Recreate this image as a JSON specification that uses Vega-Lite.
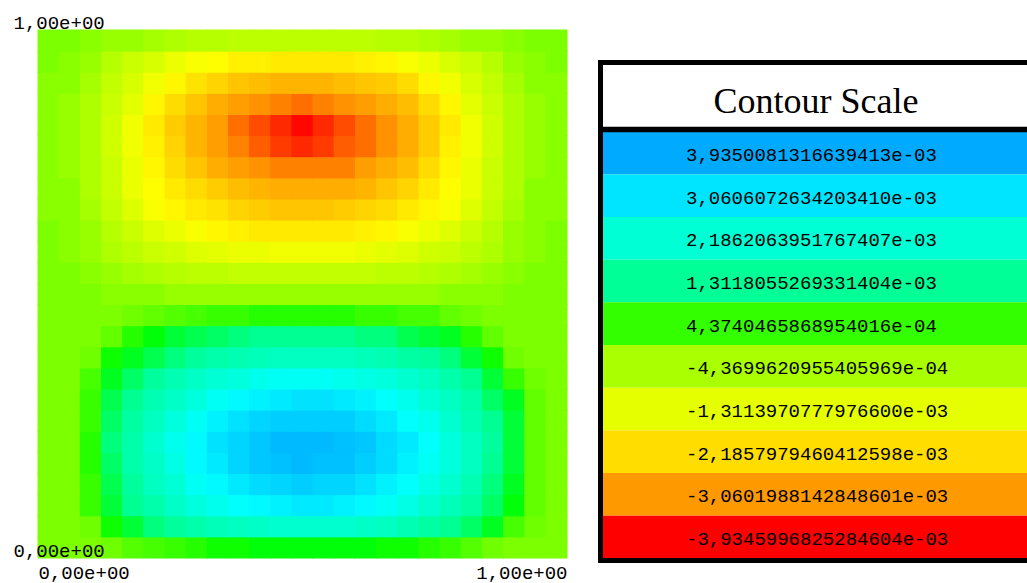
{
"$schema": "https://vega.github.io/schema/vega-lite/v6.json",
"width": 1027,
"height": 583,
"autosize": "none",
"padding": 0,
"background": "#ffffff",
"config": {"view": {"stroke": null}},
"datasets": {
"field": [
{"x":0.02,"y":0.02,"v":-1},{"x":0.06,"y":0.02,"v":-1},{"x":0.1,"y":0.02,"v":-1},{"x":0.14,"y":0.02,"v":0},{"x":0.18,"y":0.02,"v":2},{"x":0.22,"y":0.02,"v":3},{"x":0.26,"y":0.02,"v":4},{"x":0.3,"y":0.02,"v":5},{"x":0.34,"y":0.02,"v":6},{"x":0.38,"y":0.02,"v":6},{"x":0.42,"y":0.02,"v":7},{"x":0.46,"y":0.02,"v":7},{"x":0.5,"y":0.02,"v":7},{"x":0.54,"y":0.02,"v":7},{"x":0.58,"y":0.02,"v":7},{"x":0.62,"y":0.02,"v":7},{"x":0.66,"y":0.02,"v":6},{"x":0.7,"y":0.02,"v":6},{"x":0.74,"y":0.02,"v":5},{"x":0.78,"y":0.02,"v":4},{"x":0.82,"y":0.02,"v":2},{"x":0.86,"y":0.02,"v":0},{"x":0.9,"y":0.02,"v":-1},{"x":0.94,"y":0.02,"v":-1},{"x":0.98,"y":0.02,"v":-1},
{"x":0.02,"y":0.06,"v":-1},{"x":0.06,"y":0.06,"v":-1},{"x":0.1,"y":0.06,"v":0},{"x":0.14,"y":0.06,"v":6},{"x":0.18,"y":0.06,"v":9},{"x":0.22,"y":0.06,"v":12},{"x":0.26,"y":0.06,"v":14},{"x":0.3,"y":0.06,"v":16},{"x":0.34,"y":0.06,"v":18},{"x":0.38,"y":0.06,"v":19},{"x":0.42,"y":0.06,"v":20},{"x":0.46,"y":0.06,"v":21},{"x":0.5,"y":0.06,"v":21},{"x":0.54,"y":0.06,"v":21},{"x":0.58,"y":0.06,"v":21},{"x":0.62,"y":0.06,"v":20},{"x":0.66,"y":0.06,"v":19},{"x":0.7,"y":0.06,"v":17},{"x":0.74,"y":0.06,"v":15},{"x":0.78,"y":0.06,"v":13},{"x":0.82,"y":0.06,"v":11},{"x":0.86,"y":0.06,"v":8},{"x":0.9,"y":0.06,"v":3},{"x":0.94,"y":0.06,"v":0},{"x":0.98,"y":0.06,"v":-1},
{"x":0.02,"y":0.1,"v":-1},{"x":0.06,"y":0.1,"v":-1},{"x":0.1,"y":0.1,"v":4},{"x":0.14,"y":0.1,"v":9},{"x":0.18,"y":0.1,"v":13},{"x":0.22,"y":0.1,"v":16},{"x":0.26,"y":0.1,"v":20},{"x":0.3,"y":0.1,"v":23},{"x":0.34,"y":0.1,"v":25},{"x":0.38,"y":0.1,"v":27},{"x":0.42,"y":0.1,"v":28},{"x":0.46,"y":0.1,"v":29},{"x":0.5,"y":0.1,"v":30},{"x":0.54,"y":0.1,"v":30},{"x":0.58,"y":0.1,"v":29},{"x":0.62,"y":0.1,"v":28},{"x":0.66,"y":0.1,"v":26},{"x":0.7,"y":0.1,"v":24},{"x":0.74,"y":0.1,"v":21},{"x":0.78,"y":0.1,"v":18},{"x":0.82,"y":0.1,"v":15},{"x":0.86,"y":0.1,"v":11},{"x":0.9,"y":0.1,"v":7},{"x":0.94,"y":0.1,"v":1},{"x":0.98,"y":0.1,"v":-1},
{"x":0.02,"y":0.14,"v":-1},{"x":0.06,"y":0.14,"v":-1},{"x":0.1,"y":0.14,"v":4},{"x":0.14,"y":0.14,"v":10},{"x":0.18,"y":0.14,"v":14},{"x":0.22,"y":0.14,"v":19},{"x":0.26,"y":0.14,"v":22},{"x":0.3,"y":0.14,"v":26},{"x":0.34,"y":0.14,"v":28},{"x":0.38,"y":0.14,"v":30},{"x":0.42,"y":0.14,"v":32},{"x":0.46,"y":0.14,"v":33},{"x":0.5,"y":0.14,"v":34},{"x":0.54,"y":0.14,"v":33},{"x":0.58,"y":0.14,"v":33},{"x":0.62,"y":0.14,"v":31},{"x":0.66,"y":0.14,"v":29},{"x":0.7,"y":0.14,"v":27},{"x":0.74,"y":0.14,"v":24},{"x":0.78,"y":0.14,"v":21},{"x":0.82,"y":0.14,"v":17},{"x":0.86,"y":0.14,"v":12},{"x":0.9,"y":0.14,"v":8},{"x":0.94,"y":0.14,"v":1},{"x":0.98,"y":0.14,"v":-1},
{"x":0.02,"y":0.18,"v":-1},{"x":0.06,"y":0.18,"v":-1},{"x":0.1,"y":0.18,"v":5},{"x":0.14,"y":0.18,"v":11},{"x":0.18,"y":0.18,"v":16},{"x":0.22,"y":0.18,"v":20},{"x":0.26,"y":0.18,"v":24},{"x":0.3,"y":0.18,"v":28},{"x":0.34,"y":0.18,"v":30},{"x":0.38,"y":0.18,"v":33},{"x":0.42,"y":0.18,"v":35},{"x":0.46,"y":0.18,"v":36},{"x":0.5,"y":0.18,"v":37},{"x":0.54,"y":0.18,"v":36},{"x":0.58,"y":0.18,"v":36},{"x":0.62,"y":0.18,"v":34},{"x":0.66,"y":0.18,"v":32},{"x":0.7,"y":0.18,"v":29},{"x":0.74,"y":0.18,"v":26},{"x":0.78,"y":0.18,"v":23},{"x":0.82,"y":0.18,"v":19},{"x":0.86,"y":0.18,"v":13},{"x":0.9,"y":0.18,"v":9},{"x":0.94,"y":0.18,"v":1},{"x":0.98,"y":0.18,"v":-1},
{"x":0.02,"y":0.22,"v":-1},{"x":0.06,"y":0.22,"v":-1},{"x":0.1,"y":0.22,"v":5},{"x":0.14,"y":0.22,"v":12},{"x":0.18,"y":0.22,"v":16},{"x":0.22,"y":0.22,"v":21},{"x":0.26,"y":0.22,"v":25},{"x":0.3,"y":0.22,"v":28},{"x":0.34,"y":0.22,"v":31},{"x":0.38,"y":0.22,"v":33},{"x":0.42,"y":0.22,"v":35},{"x":0.46,"y":0.22,"v":37},{"x":0.5,"y":0.22,"v":37},{"x":0.54,"y":0.22,"v":37},{"x":0.58,"y":0.22,"v":36},{"x":0.62,"y":0.22,"v":35},{"x":0.66,"y":0.22,"v":32},{"x":0.7,"y":0.22,"v":30},{"x":0.74,"y":0.22,"v":27},{"x":0.78,"y":0.22,"v":23},{"x":0.82,"y":0.22,"v":19},{"x":0.86,"y":0.22,"v":14},{"x":0.9,"y":0.22,"v":9},{"x":0.94,"y":0.22,"v":1},{"x":0.98,"y":0.22,"v":-1},
{"x":0.02,"y":0.26,"v":-1},{"x":0.06,"y":0.26,"v":-1},{"x":0.1,"y":0.26,"v":4},{"x":0.14,"y":0.26,"v":11},{"x":0.18,"y":0.26,"v":15},{"x":0.22,"y":0.26,"v":19},{"x":0.26,"y":0.26,"v":23},{"x":0.3,"y":0.26,"v":26},{"x":0.34,"y":0.26,"v":29},{"x":0.38,"y":0.26,"v":31},{"x":0.42,"y":0.26,"v":33},{"x":0.46,"y":0.26,"v":34},{"x":0.5,"y":0.26,"v":34},{"x":0.54,"y":0.26,"v":34},{"x":0.58,"y":0.26,"v":34},{"x":0.62,"y":0.26,"v":32},{"x":0.66,"y":0.26,"v":30},{"x":0.7,"y":0.26,"v":27},{"x":0.74,"y":0.26,"v":25},{"x":0.78,"y":0.26,"v":21},{"x":0.82,"y":0.26,"v":17},{"x":0.86,"y":0.26,"v":13},{"x":0.9,"y":0.26,"v":9},{"x":0.94,"y":0.26,"v":1},{"x":0.98,"y":0.26,"v":-1},
{"x":0.02,"y":0.3,"v":-1},{"x":0.06,"y":0.3,"v":-1},{"x":0.1,"y":0.3,"v":4},{"x":0.14,"y":0.3,"v":10},{"x":0.18,"y":0.3,"v":13},{"x":0.22,"y":0.3,"v":17},{"x":0.26,"y":0.3,"v":20},{"x":0.3,"y":0.3,"v":23},{"x":0.34,"y":0.3,"v":26},{"x":0.38,"y":0.3,"v":28},{"x":0.42,"y":0.3,"v":29},{"x":0.46,"y":0.3,"v":30},{"x":0.5,"y":0.3,"v":31},{"x":0.54,"y":0.3,"v":31},{"x":0.58,"y":0.3,"v":30},{"x":0.62,"y":0.3,"v":29},{"x":0.66,"y":0.3,"v":27},{"x":0.7,"y":0.3,"v":25},{"x":0.74,"y":0.3,"v":22},{"x":0.78,"y":0.3,"v":19},{"x":0.82,"y":0.3,"v":16},{"x":0.86,"y":0.3,"v":11},{"x":0.9,"y":0.3,"v":8},{"x":0.94,"y":0.3,"v":1},{"x":0.98,"y":0.3,"v":-1},
{"x":0.02,"y":0.34,"v":-1},{"x":0.06,"y":0.34,"v":-1},{"x":0.1,"y":0.34,"v":3},{"x":0.14,"y":0.34,"v":8},{"x":0.18,"y":0.34,"v":11},{"x":0.22,"y":0.34,"v":14},{"x":0.26,"y":0.34,"v":17},{"x":0.3,"y":0.34,"v":20},{"x":0.34,"y":0.34,"v":22},{"x":0.38,"y":0.34,"v":23},{"x":0.42,"y":0.34,"v":25},{"x":0.46,"y":0.34,"v":26},{"x":0.5,"y":0.34,"v":26},{"x":0.54,"y":0.34,"v":26},{"x":0.58,"y":0.34,"v":25},{"x":0.62,"y":0.34,"v":24},{"x":0.66,"y":0.34,"v":23},{"x":0.7,"y":0.34,"v":21},{"x":0.74,"y":0.34,"v":19},{"x":0.78,"y":0.34,"v":16},{"x":0.82,"y":0.34,"v":13},{"x":0.86,"y":0.34,"v":9},{"x":0.9,"y":0.34,"v":4},{"x":0.94,"y":0.34,"v":0},{"x":0.98,"y":0.34,"v":-1},
{"x":0.02,"y":0.38,"v":-1},{"x":0.06,"y":0.38,"v":-1},{"x":0.1,"y":0.38,"v":0},{"x":0.14,"y":0.38,"v":6},{"x":0.18,"y":0.38,"v":8},{"x":0.22,"y":0.38,"v":10},{"x":0.26,"y":0.38,"v":12},{"x":0.3,"y":0.38,"v":14},{"x":0.34,"y":0.38,"v":16},{"x":0.38,"y":0.38,"v":17},{"x":0.42,"y":0.38,"v":18},{"x":0.46,"y":0.38,"v":19},{"x":0.5,"y":0.38,"v":19},{"x":0.54,"y":0.38,"v":19},{"x":0.58,"y":0.38,"v":19},{"x":0.62,"y":0.38,"v":18},{"x":0.66,"y":0.38,"v":17},{"x":0.7,"y":0.38,"v":15},{"x":0.74,"y":0.38,"v":14},{"x":0.78,"y":0.38,"v":12},{"x":0.82,"y":0.38,"v":9},{"x":0.86,"y":0.38,"v":6},{"x":0.9,"y":0.38,"v":0},{"x":0.94,"y":0.38,"v":-1},{"x":0.98,"y":0.38,"v":-1},
{"x":0.02,"y":0.42,"v":-1},{"x":0.06,"y":0.42,"v":-1},{"x":0.1,"y":0.42,"v":-1},{"x":0.14,"y":0.42,"v":1},{"x":0.18,"y":0.42,"v":5},{"x":0.22,"y":0.42,"v":7},{"x":0.26,"y":0.42,"v":9},{"x":0.3,"y":0.42,"v":10},{"x":0.34,"y":0.42,"v":11},{"x":0.38,"y":0.42,"v":12},{"x":0.42,"y":0.42,"v":13},{"x":0.46,"y":0.42,"v":13},{"x":0.5,"y":0.42,"v":13},{"x":0.54,"y":0.42,"v":13},{"x":0.58,"y":0.42,"v":13},{"x":0.62,"y":0.42,"v":12},{"x":0.66,"y":0.42,"v":12},{"x":0.7,"y":0.42,"v":10},{"x":0.74,"y":0.42,"v":9},{"x":0.78,"y":0.42,"v":8},{"x":0.82,"y":0.42,"v":5},{"x":0.86,"y":0.42,"v":1},{"x":0.9,"y":0.42,"v":-1},{"x":0.94,"y":0.42,"v":-1},{"x":0.98,"y":0.42,"v":-1},
{"x":0.02,"y":0.46,"v":-1},{"x":0.06,"y":0.46,"v":-1},{"x":0.1,"y":0.46,"v":-1},{"x":0.14,"y":0.46,"v":-1},{"x":0.18,"y":0.46,"v":0},{"x":0.22,"y":0.46,"v":1},{"x":0.26,"y":0.46,"v":2},{"x":0.3,"y":0.46,"v":3},{"x":0.34,"y":0.46,"v":4},{"x":0.38,"y":0.46,"v":4},{"x":0.42,"y":0.46,"v":5},{"x":0.46,"y":0.46,"v":5},{"x":0.5,"y":0.46,"v":5},{"x":0.54,"y":0.46,"v":5},{"x":0.58,"y":0.46,"v":5},{"x":0.62,"y":0.46,"v":4},{"x":0.66,"y":0.46,"v":4},{"x":0.7,"y":0.46,"v":3},{"x":0.74,"y":0.46,"v":3},{"x":0.78,"y":0.46,"v":1},{"x":0.82,"y":0.46,"v":0},{"x":0.86,"y":0.46,"v":-1},{"x":0.9,"y":0.46,"v":-1},{"x":0.94,"y":0.46,"v":-1},{"x":0.98,"y":0.46,"v":-1},
{"x":0.02,"y":0.5,"v":-1},{"x":0.06,"y":0.5,"v":-1},{"x":0.1,"y":0.5,"v":-1},{"x":0.14,"y":0.5,"v":-2},{"x":0.18,"y":0.5,"v":-2},{"x":0.22,"y":0.5,"v":-2},{"x":0.26,"y":0.5,"v":-3},{"x":0.3,"y":0.5,"v":-3},{"x":0.34,"y":0.5,"v":-3},{"x":0.38,"y":0.5,"v":-3},{"x":0.42,"y":0.5,"v":-3},{"x":0.46,"y":0.5,"v":-3},{"x":0.5,"y":0.5,"v":-3},{"x":0.54,"y":0.5,"v":-3},{"x":0.58,"y":0.5,"v":-3},{"x":0.62,"y":0.5,"v":-3},{"x":0.66,"y":0.5,"v":-3},{"x":0.7,"y":0.5,"v":-3},{"x":0.74,"y":0.5,"v":-3},{"x":0.78,"y":0.5,"v":-2},{"x":0.82,"y":0.5,"v":-2},{"x":0.86,"y":0.5,"v":-2},{"x":0.9,"y":0.5,"v":-1},{"x":0.94,"y":0.5,"v":-1},{"x":0.98,"y":0.5,"v":-1},
{"x":0.02,"y":0.54,"v":-1},{"x":0.06,"y":0.54,"v":-1},{"x":0.1,"y":0.54,"v":-2},{"x":0.14,"y":0.54,"v":-3},{"x":0.18,"y":0.54,"v":-4},{"x":0.22,"y":0.54,"v":-5},{"x":0.26,"y":0.54,"v":-6},{"x":0.3,"y":0.54,"v":-7},{"x":0.34,"y":0.54,"v":-7},{"x":0.38,"y":0.54,"v":-8},{"x":0.42,"y":0.54,"v":-8},{"x":0.46,"y":0.54,"v":-8},{"x":0.5,"y":0.54,"v":-8},{"x":0.54,"y":0.54,"v":-8},{"x":0.58,"y":0.54,"v":-8},{"x":0.62,"y":0.54,"v":-8},{"x":0.66,"y":0.54,"v":-7},{"x":0.7,"y":0.54,"v":-7},{"x":0.74,"y":0.54,"v":-6},{"x":0.78,"y":0.54,"v":-5},{"x":0.82,"y":0.54,"v":-4},{"x":0.86,"y":0.54,"v":-3},{"x":0.9,"y":0.54,"v":-2},{"x":0.94,"y":0.54,"v":-1},{"x":0.98,"y":0.54,"v":-1},
{"x":0.02,"y":0.58,"v":-1},{"x":0.06,"y":0.58,"v":-2},{"x":0.1,"y":0.58,"v":-3},{"x":0.14,"y":0.58,"v":-5},{"x":0.18,"y":0.58,"v":-7},{"x":0.22,"y":0.58,"v":-9},{"x":0.26,"y":0.58,"v":-10},{"x":0.3,"y":0.58,"v":-12},{"x":0.34,"y":0.58,"v":-13},{"x":0.38,"y":0.58,"v":-14},{"x":0.42,"y":0.58,"v":-14},{"x":0.46,"y":0.58,"v":-15},{"x":0.5,"y":0.58,"v":-15},{"x":0.54,"y":0.58,"v":-15},{"x":0.58,"y":0.58,"v":-15},{"x":0.62,"y":0.58,"v":-14},{"x":0.66,"y":0.58,"v":-13},{"x":0.7,"y":0.58,"v":-12},{"x":0.74,"y":0.58,"v":-10},{"x":0.78,"y":0.58,"v":-9},{"x":0.82,"y":0.58,"v":-7},{"x":0.86,"y":0.58,"v":-5},{"x":0.9,"y":0.58,"v":-3},{"x":0.94,"y":0.58,"v":-2},{"x":0.98,"y":0.58,"v":-1},
{"x":0.02,"y":0.62,"v":-1},{"x":0.06,"y":0.62,"v":-2},{"x":0.1,"y":0.62,"v":-3},{"x":0.14,"y":0.62,"v":-6},{"x":0.18,"y":0.62,"v":-9},{"x":0.22,"y":0.62,"v":-12},{"x":0.26,"y":0.62,"v":-14},{"x":0.3,"y":0.62,"v":-16},{"x":0.34,"y":0.62,"v":-18},{"x":0.38,"y":0.62,"v":-19},{"x":0.42,"y":0.62,"v":-20},{"x":0.46,"y":0.62,"v":-20},{"x":0.5,"y":0.62,"v":-20},{"x":0.54,"y":0.62,"v":-20},{"x":0.58,"y":0.62,"v":-20},{"x":0.62,"y":0.62,"v":-19},{"x":0.66,"y":0.62,"v":-18},{"x":0.7,"y":0.62,"v":-16},{"x":0.74,"y":0.62,"v":-14},{"x":0.78,"y":0.62,"v":-12},{"x":0.82,"y":0.62,"v":-9},{"x":0.86,"y":0.62,"v":-6},{"x":0.9,"y":0.62,"v":-3},{"x":0.94,"y":0.62,"v":-2},{"x":0.98,"y":0.62,"v":-1},
{"x":0.02,"y":0.66,"v":-2},{"x":0.06,"y":0.66,"v":-2},{"x":0.1,"y":0.66,"v":-4},{"x":0.14,"y":0.66,"v":-8},{"x":0.18,"y":0.66,"v":-12},{"x":0.22,"y":0.66,"v":-16},{"x":0.26,"y":0.66,"v":-18},{"x":0.3,"y":0.66,"v":-20},{"x":0.34,"y":0.66,"v":-21},{"x":0.38,"y":0.66,"v":-23},{"x":0.42,"y":0.66,"v":-24},{"x":0.46,"y":0.66,"v":-25},{"x":0.5,"y":0.66,"v":-25},{"x":0.54,"y":0.66,"v":-25},{"x":0.58,"y":0.66,"v":-24},{"x":0.62,"y":0.66,"v":-23},{"x":0.66,"y":0.66,"v":-22},{"x":0.7,"y":0.66,"v":-20},{"x":0.74,"y":0.66,"v":-18},{"x":0.78,"y":0.66,"v":-16},{"x":0.82,"y":0.66,"v":-12},{"x":0.86,"y":0.66,"v":-8},{"x":0.9,"y":0.66,"v":-4},{"x":0.94,"y":0.66,"v":-2},{"x":0.98,"y":0.66,"v":-2},
{"x":0.02,"y":0.7,"v":-2},{"x":0.06,"y":0.7,"v":-2},{"x":0.1,"y":0.7,"v":-5},{"x":0.14,"y":0.7,"v":-9},{"x":0.18,"y":0.7,"v":-14},{"x":0.22,"y":0.7,"v":-17},{"x":0.26,"y":0.7,"v":-20},{"x":0.3,"y":0.7,"v":-22},{"x":0.34,"y":0.7,"v":-24},{"x":0.38,"y":0.7,"v":-26},{"x":0.42,"y":0.7,"v":-27},{"x":0.46,"y":0.7,"v":-28},{"x":0.5,"y":0.7,"v":-28},{"x":0.54,"y":0.7,"v":-28},{"x":0.58,"y":0.7,"v":-28},{"x":0.62,"y":0.7,"v":-27},{"x":0.66,"y":0.7,"v":-25},{"x":0.7,"y":0.7,"v":-23},{"x":0.74,"y":0.7,"v":-20},{"x":0.78,"y":0.7,"v":-17},{"x":0.82,"y":0.7,"v":-14},{"x":0.86,"y":0.7,"v":-9},{"x":0.9,"y":0.7,"v":-5},{"x":0.94,"y":0.7,"v":-2},{"x":0.98,"y":0.7,"v":-2},
{"x":0.02,"y":0.74,"v":-2},{"x":0.06,"y":0.74,"v":-3},{"x":0.1,"y":0.74,"v":-5},{"x":0.14,"y":0.74,"v":-9},{"x":0.18,"y":0.74,"v":-14},{"x":0.22,"y":0.74,"v":-18},{"x":0.26,"y":0.74,"v":-22},{"x":0.3,"y":0.74,"v":-25},{"x":0.34,"y":0.74,"v":-28},{"x":0.38,"y":0.74,"v":-30},{"x":0.42,"y":0.74,"v":-31},{"x":0.46,"y":0.74,"v":-32},{"x":0.5,"y":0.74,"v":-32},{"x":0.54,"y":0.74,"v":-32},{"x":0.58,"y":0.74,"v":-32},{"x":0.62,"y":0.74,"v":-30},{"x":0.66,"y":0.74,"v":-28},{"x":0.7,"y":0.74,"v":-26},{"x":0.74,"y":0.74,"v":-22},{"x":0.78,"y":0.74,"v":-18},{"x":0.82,"y":0.74,"v":-14},{"x":0.86,"y":0.74,"v":-9},{"x":0.9,"y":0.74,"v":-5},{"x":0.94,"y":0.74,"v":-3},{"x":0.98,"y":0.74,"v":-2},
{"x":0.02,"y":0.78,"v":-2},{"x":0.06,"y":0.78,"v":-3},{"x":0.1,"y":0.78,"v":-5},{"x":0.14,"y":0.78,"v":-10},{"x":0.18,"y":0.78,"v":-15},{"x":0.22,"y":0.78,"v":-19},{"x":0.26,"y":0.78,"v":-23},{"x":0.3,"y":0.78,"v":-27},{"x":0.34,"y":0.78,"v":-30},{"x":0.38,"y":0.78,"v":-32},{"x":0.42,"y":0.78,"v":-34},{"x":0.46,"y":0.78,"v":-36},{"x":0.5,"y":0.78,"v":-37},{"x":0.54,"y":0.78,"v":-36},{"x":0.58,"y":0.78,"v":-34},{"x":0.62,"y":0.78,"v":-33},{"x":0.66,"y":0.78,"v":-31},{"x":0.7,"y":0.78,"v":-28},{"x":0.74,"y":0.78,"v":-24},{"x":0.78,"y":0.78,"v":-19},{"x":0.82,"y":0.78,"v":-15},{"x":0.86,"y":0.78,"v":-10},{"x":0.9,"y":0.78,"v":-5},{"x":0.94,"y":0.78,"v":-3},{"x":0.98,"y":0.78,"v":-2},
{"x":0.02,"y":0.82,"v":-2},{"x":0.06,"y":0.82,"v":-3},{"x":0.1,"y":0.82,"v":-5},{"x":0.14,"y":0.82,"v":-10},{"x":0.18,"y":0.82,"v":-15},{"x":0.22,"y":0.82,"v":-20},{"x":0.26,"y":0.82,"v":-24},{"x":0.3,"y":0.82,"v":-27},{"x":0.34,"y":0.82,"v":-30},{"x":0.38,"y":0.82,"v":-33},{"x":0.42,"y":0.82,"v":-35},{"x":0.46,"y":0.82,"v":-37},{"x":0.5,"y":0.82,"v":-39},{"x":0.54,"y":0.82,"v":-37},{"x":0.58,"y":0.82,"v":-35},{"x":0.62,"y":0.82,"v":-33},{"x":0.66,"y":0.82,"v":-31},{"x":0.7,"y":0.82,"v":-28},{"x":0.74,"y":0.82,"v":-24},{"x":0.78,"y":0.82,"v":-20},{"x":0.82,"y":0.82,"v":-15},{"x":0.86,"y":0.82,"v":-10},{"x":0.9,"y":0.82,"v":-5},{"x":0.94,"y":0.82,"v":-3},{"x":0.98,"y":0.82,"v":-2},
{"x":0.02,"y":0.86,"v":-2},{"x":0.06,"y":0.86,"v":-3},{"x":0.1,"y":0.86,"v":-5},{"x":0.14,"y":0.86,"v":-9},{"x":0.18,"y":0.86,"v":-13},{"x":0.22,"y":0.86,"v":-18},{"x":0.26,"y":0.86,"v":-22},{"x":0.3,"y":0.86,"v":-25},{"x":0.34,"y":0.86,"v":-28},{"x":0.38,"y":0.86,"v":-30},{"x":0.42,"y":0.86,"v":-31},{"x":0.46,"y":0.86,"v":-32},{"x":0.5,"y":0.86,"v":-33},{"x":0.54,"y":0.86,"v":-32},{"x":0.58,"y":0.86,"v":-31},{"x":0.62,"y":0.86,"v":-30},{"x":0.66,"y":0.86,"v":-28},{"x":0.7,"y":0.86,"v":-26},{"x":0.74,"y":0.86,"v":-22},{"x":0.78,"y":0.86,"v":-18},{"x":0.82,"y":0.86,"v":-13},{"x":0.86,"y":0.86,"v":-9},{"x":0.9,"y":0.86,"v":-5},{"x":0.94,"y":0.86,"v":-3},{"x":0.98,"y":0.86,"v":-2},
{"x":0.02,"y":0.9,"v":-2},{"x":0.06,"y":0.9,"v":-2},{"x":0.1,"y":0.9,"v":-4},{"x":0.14,"y":0.9,"v":-8},{"x":0.18,"y":0.9,"v":-11},{"x":0.22,"y":0.9,"v":-15},{"x":0.26,"y":0.9,"v":-18},{"x":0.3,"y":0.9,"v":-21},{"x":0.34,"y":0.9,"v":-23},{"x":0.38,"y":0.9,"v":-25},{"x":0.42,"y":0.9,"v":-26},{"x":0.46,"y":0.9,"v":-27},{"x":0.5,"y":0.9,"v":-27},{"x":0.54,"y":0.9,"v":-27},{"x":0.58,"y":0.9,"v":-26},{"x":0.62,"y":0.9,"v":-25},{"x":0.66,"y":0.9,"v":-24},{"x":0.7,"y":0.9,"v":-22},{"x":0.74,"y":0.9,"v":-18},{"x":0.78,"y":0.9,"v":-15},{"x":0.82,"y":0.9,"v":-11},{"x":0.86,"y":0.9,"v":-8},{"x":0.9,"y":0.9,"v":-4},{"x":0.94,"y":0.9,"v":-2},{"x":0.98,"y":0.9,"v":-2},
{"x":0.02,"y":0.94,"v":-1},{"x":0.06,"y":0.94,"v":-2},{"x":0.1,"y":0.94,"v":-3},{"x":0.14,"y":0.94,"v":-6},{"x":0.18,"y":0.94,"v":-9},{"x":0.22,"y":0.94,"v":-11},{"x":0.26,"y":0.94,"v":-14},{"x":0.3,"y":0.94,"v":-16},{"x":0.34,"y":0.94,"v":-17},{"x":0.38,"y":0.94,"v":-19},{"x":0.42,"y":0.94,"v":-19},{"x":0.46,"y":0.94,"v":-20},{"x":0.5,"y":0.94,"v":-20},{"x":0.54,"y":0.94,"v":-20},{"x":0.58,"y":0.94,"v":-20},{"x":0.62,"y":0.94,"v":-19},{"x":0.66,"y":0.94,"v":-18},{"x":0.7,"y":0.94,"v":-16},{"x":0.74,"y":0.94,"v":-14},{"x":0.78,"y":0.94,"v":-11},{"x":0.82,"y":0.94,"v":-9},{"x":0.86,"y":0.94,"v":-6},{"x":0.9,"y":0.94,"v":-3},{"x":0.94,"y":0.94,"v":-2},{"x":0.98,"y":0.94,"v":-1},
{"x":0.02,"y":0.98,"v":-1},{"x":0.06,"y":0.98,"v":-1},{"x":0.1,"y":0.98,"v":-2},{"x":0.14,"y":0.98,"v":-3},{"x":0.18,"y":0.98,"v":-3},{"x":0.22,"y":0.98,"v":-4},{"x":0.26,"y":0.98,"v":-5},{"x":0.3,"y":0.98,"v":-6},{"x":0.34,"y":0.98,"v":-6},{"x":0.38,"y":0.98,"v":-7},{"x":0.42,"y":0.98,"v":-7},{"x":0.46,"y":0.98,"v":-7},{"x":0.5,"y":0.98,"v":-7},{"x":0.54,"y":0.98,"v":-7},{"x":0.58,"y":0.98,"v":-7},{"x":0.62,"y":0.98,"v":-7},{"x":0.66,"y":0.98,"v":-6},{"x":0.7,"y":0.98,"v":-6},{"x":0.74,"y":0.98,"v":-5},{"x":0.78,"y":0.98,"v":-4},{"x":0.82,"y":0.98,"v":-3},{"x":0.86,"y":0.98,"v":-3},{"x":0.9,"y":0.98,"v":-2},{"x":0.94,"y":0.98,"v":-1},{"x":0.98,"y":0.98,"v":-1}
],
"levels": [
{"label":"3,9350081316639413e-03","v":39.350081},
{"label":"3,0606072634203410e-03","v":30.606073},
{"label":"2,1862063951767407e-03","v":21.862064},
{"label":"1,3118055269331404e-03","v":13.118055},
{"label":"4,3740465868954016e-04","v":4.374047},
{"label":"-4,3699620955405969e-04","v":-4.369962},
{"label":"-1,3113970777976600e-03","v":-13.113971},
{"label":"-2,1857979460412598e-03","v":-21.857979},
{"label":"-3,0601988142848601e-03","v":-30.601988},
{"label":"-3,9345996825284604e-03","v":-39.345997}
],
"frame": [{"part": "box"}]
},
"layer": [
{
"data": {"name": "field"},
"mark": {"type": "square", "size": 490, "opacity": 1, "strokeWidth": 0},
"encoding": {
"x": {"field": "x", "type": "quantitative",
"scale": {"domain": [0, 1], "range": [38, 567], "nice": false, "zero": false},
"axis": {"orient": "bottom", "values": [0, 1], "labelExpr": "datum.value == 0 ? '0,00e+00' : '1,00e+00'", "labelFlush": true, "labelFont": "Liberation Mono", "labelFontSize": 19, "labelColor": "#000000", "labelBaseline": "alphabetic", "labelPadding": -5, "tickSize": 0, "ticks": false, "domain": false, "grid": false, "title": null, "labelOverlap": false}},
"y": {"field": "y", "type": "quantitative",
"scale": {"domain": [0, 1], "range": [558, 30], "nice": false, "zero": false},
"axis": {"orient": "left", "values": [0, 1], "labelExpr": "datum.value == 0 ? '0,00e+00' : '1,00e+00'", "labelFlush": false, "labelAlign": "left", "labelBaseline": "alphabetic", "labelPadding": -13, "labelOffset": -2, "labelFont": "Liberation Mono", "labelFontSize": 19, "labelColor": "#000000", "tickSize": 0, "ticks": false, "domain": false, "grid": false, "title": null, "labelOverlap": false, "zindex": 1}},
"color": {"field": "v", "type": "quantitative",
"scale": {"type": "linear", "domain": [-39.345997, -30.601988, -21.857979, -13.113971, -4.369962, 4.374047, 13.118055, 21.862064, 30.606073, 39.350081], "range": ["#ff0000", "#ff9900", "#ffdd00", "#e5ff00", "#aaff00", "#33ff00", "#00ff96", "#00ffd4", "#00e5ff", "#00aaff"], "interpolate": "hsl", "clamp": true},
"legend": null}
}
},
{
"data": {"name": "levels"},
"mark": {"type": "rect"},
"encoding": {
"y": {"field": "label", "type": "nominal", "sort": null, "scale": {"range": [131.7, 558.3], "paddingInner": 0, "paddingOuter": 0}, "axis": null},
"x": {"datum": 0, "type": "quantitative", "scale": {"domain": [0, 1], "range": [600, 1040], "nice": false, "zero": false},
"axis": {"orient": "top", "offset": -129, "domain": true, "domainColor": "#000000", "domainWidth": 5.5, "ticks": false, "labels": false, "grid": false, "title": "Contour Scale", "titleFont": "Liberation Serif", "titleFontSize": 36, "titleFontWeight": "normal", "titleColor": "#000000", "titleX": 815.5, "titleY": -17, "titleBaseline": "alphabetic", "titleAlign": "center", "zindex": 1}},
"x2": {"datum": 1},
"color": {"field": "v", "type": "quantitative", "legend": null}
}
},
{
"data": {"name": "levels"},
"mark": {"type": "text", "align": "left", "baseline": "middle", "dx": 86, "dy": 2, "font": "Liberation Mono", "fontSize": 19, "fill": "#000000"},
"encoding": {
"y": {"field": "label", "type": "nominal", "sort": null, "scale": {"range": [131.7, 558.3], "paddingInner": 0, "paddingOuter": 0}, "axis": null},
"x": {"datum": 0, "type": "quantitative", "scale": {"domain": [0, 1], "range": [600, 1040], "nice": false, "zero": false}, "axis": null},
"text": {"field": "label"}
}
},
{
"data": {"name": "frame"},
"mark": {"type": "rect", "fill": null, "fillOpacity": 0, "stroke": "#000000", "strokeWidth": 5},
"encoding": {
"x": {"datum": 0, "type": "quantitative", "scale": {"domain": [0, 1], "range": [600.5, 1040], "nice": false, "zero": false}, "axis": null},
"x2": {"datum": 1},
"y": {"datum": 0, "type": "quantitative", "scale": {"domain": [0, 1], "range": [560.5, 62.5], "nice": false, "zero": false}, "axis": null},
"y2": {"datum": 1}
}
}
],
"resolve": {"scale": {"x": "independent", "y": "independent"}, "axis": {"x": "independent", "y": "independent"}}
}
